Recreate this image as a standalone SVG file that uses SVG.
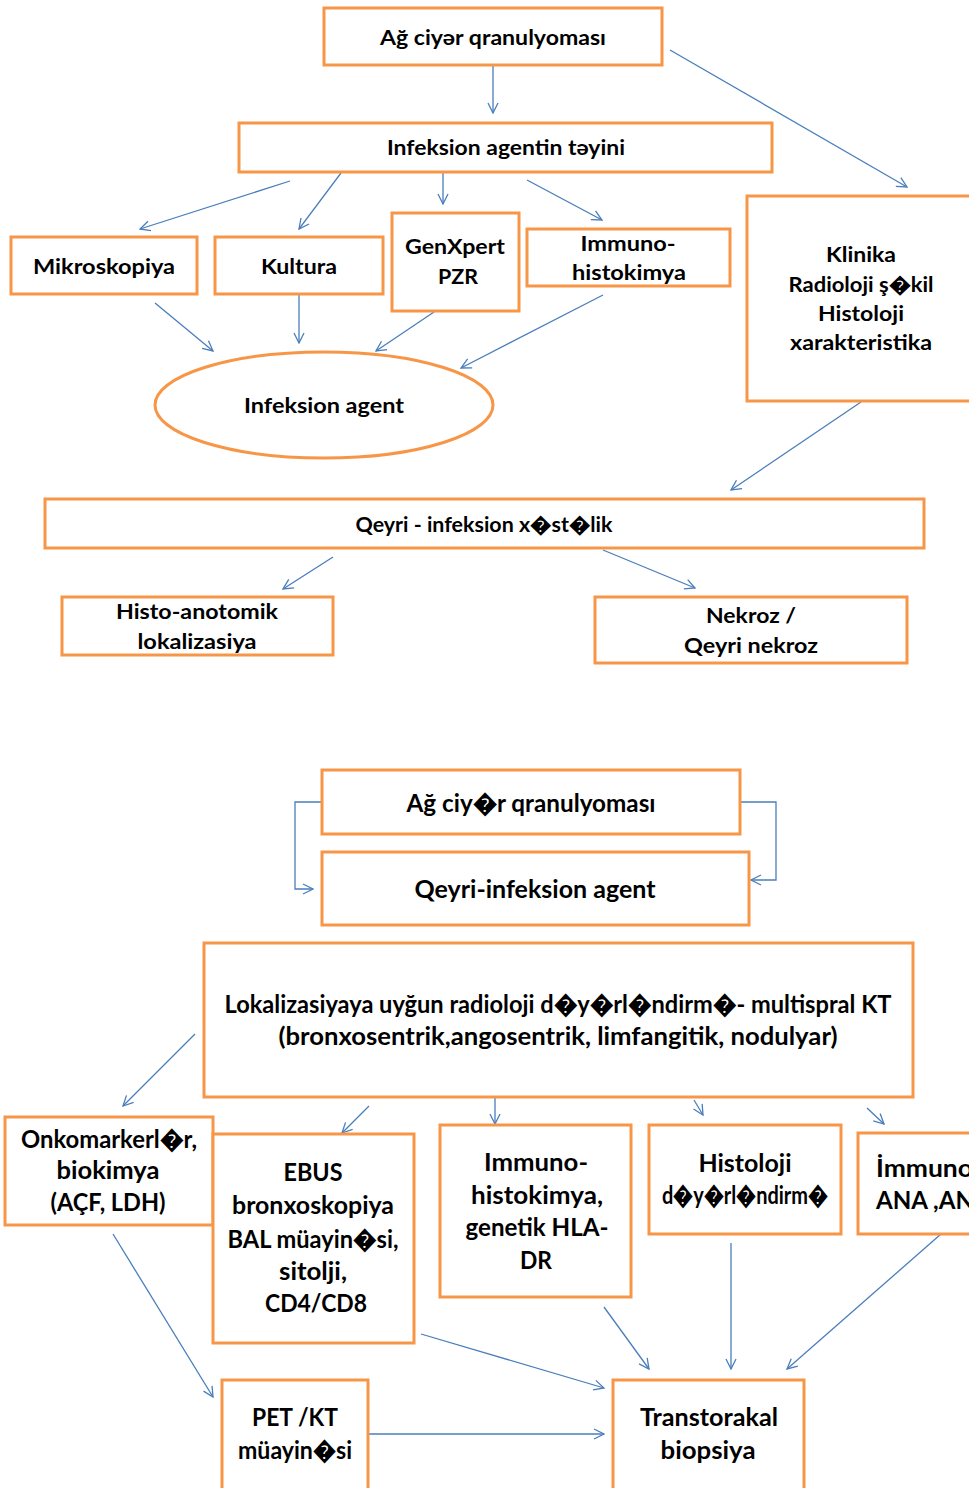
<svg xmlns="http://www.w3.org/2000/svg" width="969" height="1488" viewBox="0 0 969 1488">
<style>
.b{fill:#fff;stroke:#f79646;stroke-width:3}
.t{font-family:Lato,"Liberation Sans",sans-serif;font-weight:700;font-size:21px;fill:#000;text-anchor:middle}
.t2{font-family:Lato,"Liberation Sans",sans-serif;font-weight:700;font-size:25px;fill:#000;text-anchor:middle}
.s{text-anchor:start}
.c{fill:none;stroke:#4a7ebb;stroke-width:1.3}
</style>
<defs>
<marker id="a" viewBox="0 0 12 12" refX="11" refY="6" markerWidth="12" markerHeight="12" markerUnits="userSpaceOnUse" orient="auto">
<path d="M1,1 L11,6 L1,11" fill="none" stroke="#4a7ebb" stroke-width="1.3"/>
</marker>
</defs>
<rect width="969" height="1488" fill="#fff"/>
<g id="connectors">
<line class="c" x1="493" y1="66" x2="493" y2="113" marker-end="url(#a)"/>
<line class="c" x1="670" y1="50" x2="907" y2="187" marker-end="url(#a)"/>
<line class="c" x1="290" y1="181" x2="140" y2="229" marker-end="url(#a)"/>
<line class="c" x1="341" y1="173" x2="299" y2="229" marker-end="url(#a)"/>
<line class="c" x1="443" y1="173" x2="443" y2="204" marker-end="url(#a)"/>
<line class="c" x1="527" y1="180" x2="602" y2="220" marker-end="url(#a)"/>
<line class="c" x1="155" y1="303" x2="213" y2="351" marker-end="url(#a)"/>
<line class="c" x1="299" y1="295" x2="299" y2="343" marker-end="url(#a)"/>
<line class="c" x1="434" y1="312" x2="376" y2="351" marker-end="url(#a)"/>
<line class="c" x1="603" y1="295" x2="461" y2="368" marker-end="url(#a)"/>
<line class="c" x1="861" y1="402" x2="731" y2="490" marker-end="url(#a)"/>
<line class="c" x1="333" y1="557" x2="283" y2="589" marker-end="url(#a)"/>
<line class="c" x1="603" y1="550" x2="695" y2="588" marker-end="url(#a)"/>
<polyline class="c" points="322,802 295,802 295,889 313,889" marker-end="url(#a)"/>
<polyline class="c" points="741,802 776,802 776,880 751,880" marker-end="url(#a)"/>
<line class="c" x1="195" y1="1034" x2="123" y2="1106" marker-end="url(#a)"/>
<line class="c" x1="369" y1="1106" x2="342" y2="1133" marker-end="url(#a)"/>
<line class="c" x1="495" y1="1098" x2="495" y2="1124" marker-end="url(#a)"/>
<line class="c" x1="694" y1="1100" x2="703" y2="1115" marker-end="url(#a)"/>
<line class="c" x1="867" y1="1108" x2="884" y2="1124" marker-end="url(#a)"/>
<line class="c" x1="113" y1="1234" x2="213" y2="1397" marker-end="url(#a)"/>
<line class="c" x1="421" y1="1334" x2="604" y2="1388" marker-end="url(#a)"/>
<line class="c" x1="604" y1="1307" x2="649" y2="1369" marker-end="url(#a)"/>
<line class="c" x1="731" y1="1243" x2="731" y2="1369" marker-end="url(#a)"/>
<line class="c" x1="941" y1="1234" x2="787" y2="1369" marker-end="url(#a)"/>
<line class="c" x1="369" y1="1434" x2="604" y2="1434" marker-end="url(#a)"/>
</g>
<g id="n1"><rect class="b" x="324" y="8" width="338" height="57"/><text class="t" x="493" y="45" textLength="226" lengthAdjust="spacingAndGlyphs">Ağ ciyər qranulyoması</text></g>
<g id="n2"><rect class="b" x="239" y="123" width="533" height="49"/><text class="t" x="506" y="155" textLength="238" lengthAdjust="spacingAndGlyphs">Infeksion agentin təyini</text></g>
<g id="n3"><rect class="b" x="747" y="196" width="230" height="205"/>
<text class="t" x="861" y="262" textLength="70" lengthAdjust="spacingAndGlyphs">Klinika</text>
<text class="t" x="861" y="292" textLength="145" lengthAdjust="spacingAndGlyphs">Radioloji ş�kil</text>
<text class="t" x="861" y="321" textLength="86" lengthAdjust="spacingAndGlyphs">Histoloji</text>
<text class="t" x="861" y="350" textLength="142" lengthAdjust="spacingAndGlyphs">xarakteristika</text></g>
<g id="n4"><rect class="b" x="11" y="237" width="186" height="57"/><text class="t" x="104" y="274" textLength="142" lengthAdjust="spacingAndGlyphs">Mikroskopiya</text></g>
<g id="n5"><rect class="b" x="215" y="237" width="168" height="57"/><text class="t" x="299" y="274" textLength="76" lengthAdjust="spacingAndGlyphs">Kultura</text></g>
<g id="n6"><rect class="b" x="392" y="213" width="127" height="98"/>
<text class="t" x="455" y="254" textLength="100" lengthAdjust="spacingAndGlyphs">GenXpert</text>
<text class="t" x="458" y="284" textLength="40" lengthAdjust="spacingAndGlyphs">PZR</text></g>
<g id="n7"><rect class="b" x="527" y="229" width="203" height="57"/>
<text class="t" x="628" y="251" textLength="95" lengthAdjust="spacingAndGlyphs">Immuno-</text>
<text class="t" x="629" y="280" textLength="114" lengthAdjust="spacingAndGlyphs">histokimya</text></g>
<g id="n8"><ellipse class="b" cx="324" cy="405" rx="169" ry="53"/><text class="t" x="324" y="413" textLength="160" lengthAdjust="spacingAndGlyphs">Infeksion agent</text></g>
<g id="n9"><rect class="b" x="45" y="499" width="879" height="49"/><text class="t" x="484" y="532" textLength="257" lengthAdjust="spacingAndGlyphs">Qeyri - infeksion x�st�lik</text></g>
<g id="n10"><rect class="b" x="62" y="597" width="271" height="58"/>
<text class="t" x="197" y="619" textLength="162" lengthAdjust="spacingAndGlyphs">Histo-anotomik</text>
<text class="t" x="197" y="649" textLength="119" lengthAdjust="spacingAndGlyphs">lokalizasiya</text></g>
<g id="n11"><rect class="b" x="595" y="597" width="312" height="66"/>
<text class="t" x="751" y="623" textLength="90" lengthAdjust="spacingAndGlyphs">Nekroz /</text>
<text class="t" x="751" y="653" textLength="134" lengthAdjust="spacingAndGlyphs">Qeyri nekroz</text></g>
<g id="n12"><rect class="b" x="322" y="770" width="418" height="64"/><text class="t2" x="531" y="812" textLength="249" lengthAdjust="spacingAndGlyphs">Ağ ciy�r qranulyoması</text></g>
<g id="n13"><rect class="b" x="322" y="852" width="427" height="73"/><text class="t2" x="535" y="898" textLength="241" lengthAdjust="spacingAndGlyphs">Qeyri-infeksion agent</text></g>
<g id="n14"><rect class="b" x="204" y="943" width="709" height="154"/>
<text class="t2" x="558" y="1013" textLength="667" lengthAdjust="spacingAndGlyphs">Lokalizasiyaya uyğun radioloji d�y�rl�ndirm�- multispral KT</text>
<text class="t2" x="558" y="1045" textLength="559" lengthAdjust="spacingAndGlyphs">(bronxosentrik,angosentrik, limfangitik, nodulyar)</text></g>
<g id="n15"><rect class="b" x="5" y="1117" width="208" height="108"/>
<text class="t2" x="109" y="1148" textLength="176" lengthAdjust="spacingAndGlyphs">Onkomarkerl�r,</text>
<text class="t2" x="108" y="1179" textLength="103" lengthAdjust="spacingAndGlyphs">biokimya</text>
<text class="t2" x="108" y="1211" textLength="115" lengthAdjust="spacingAndGlyphs">(AÇF, LDH)</text></g>
<g id="n16"><rect class="b" x="213" y="1134" width="201" height="209"/>
<text class="t2" x="313" y="1181" textLength="59" lengthAdjust="spacingAndGlyphs">EBUS</text>
<text class="t2" x="313" y="1214" textLength="162" lengthAdjust="spacingAndGlyphs">bronxoskopiya</text>
<text class="t2" x="313" y="1248" textLength="171" lengthAdjust="spacingAndGlyphs">BAL müayin�si,</text>
<text class="t2" x="313" y="1280" textLength="68" lengthAdjust="spacingAndGlyphs">sitolji,</text>
<text class="t2" x="316" y="1312" textLength="102" lengthAdjust="spacingAndGlyphs">CD4/CD8</text></g>
<g id="n17"><rect class="b" x="440" y="1125" width="191" height="172"/>
<text class="t2" x="536" y="1171" textLength="104" lengthAdjust="spacingAndGlyphs">Immuno-</text>
<text class="t2" x="537" y="1204" textLength="132" lengthAdjust="spacingAndGlyphs">histokimya,</text>
<text class="t2" x="537" y="1236" textLength="143" lengthAdjust="spacingAndGlyphs">genetik HLA-</text>
<text class="t2" x="536" y="1269" textLength="32" lengthAdjust="spacingAndGlyphs">DR</text></g>
<g id="n18"><rect class="b" x="649" y="1125" width="192" height="109"/>
<text class="t2" x="745" y="1172" textLength="93" lengthAdjust="spacingAndGlyphs">Histoloji</text>
<text class="t2" x="745" y="1204" textLength="166" lengthAdjust="spacingAndGlyphs">d�y�rl�ndirm�</text></g>
<g id="n19"><rect class="b" x="858" y="1133" width="130" height="101"/>
<text class="t2 s" x="876" y="1177" textLength="97" lengthAdjust="spacingAndGlyphs">İmmuno</text>
<text class="t2 s" x="876" y="1209" textLength="98" lengthAdjust="spacingAndGlyphs">ANA ,AN</text></g>
<g id="n20"><rect class="b" x="222" y="1380" width="146" height="120"/>
<text class="t2" x="295" y="1426" textLength="86" lengthAdjust="spacingAndGlyphs">PET /KT</text>
<text class="t2" x="295" y="1459" textLength="114" lengthAdjust="spacingAndGlyphs">müayin�si</text></g>
<g id="n21"><rect class="b" x="613" y="1380" width="191" height="120"/>
<text class="t2" x="709" y="1426" textLength="138" lengthAdjust="spacingAndGlyphs">Transtorakal</text>
<text class="t2" x="708" y="1459" textLength="95" lengthAdjust="spacingAndGlyphs">biopsiya</text></g>
</svg>
